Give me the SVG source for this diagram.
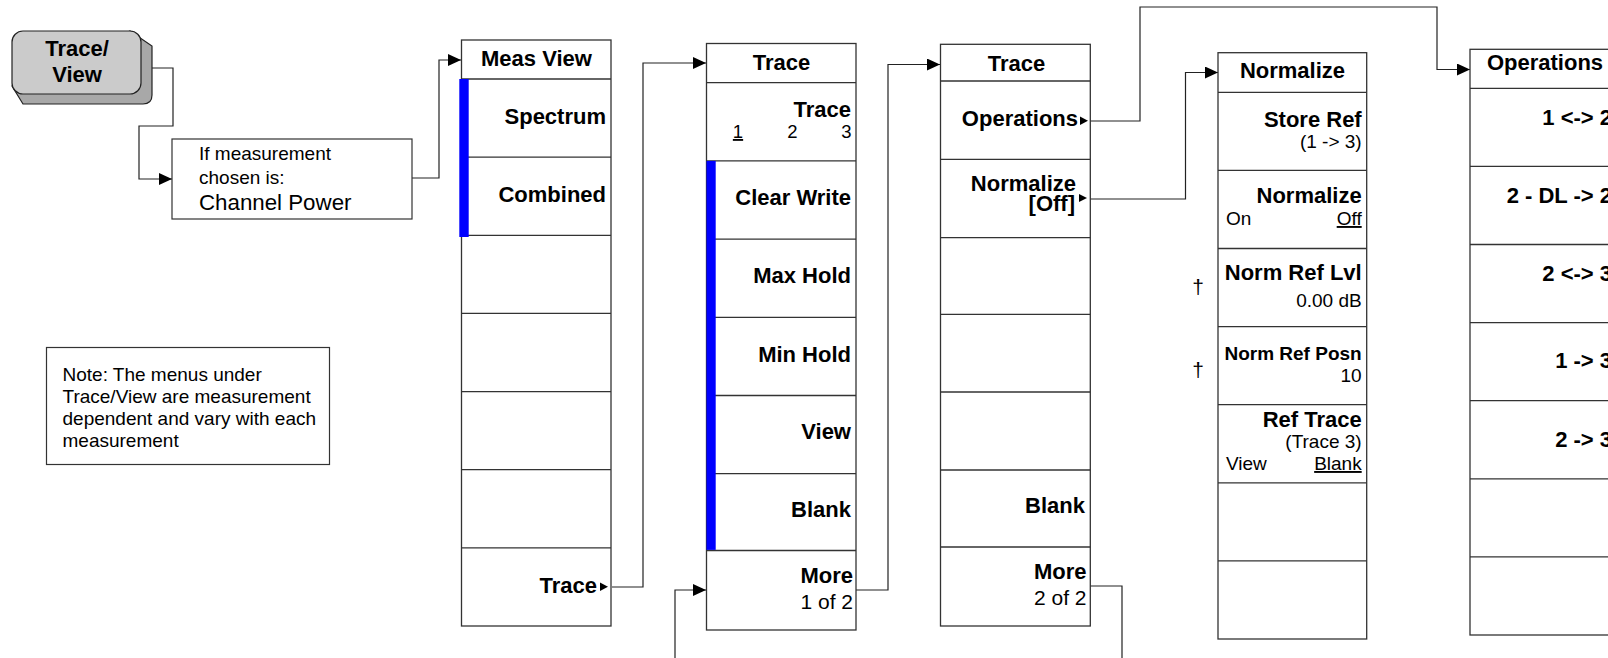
<svg xmlns="http://www.w3.org/2000/svg" width="1608" height="658" viewBox="0 0 1608 658">
<defs>
<style>
.box{fill:#fff;stroke:#333;stroke-width:1.3}
.sep{stroke:#333;stroke-width:1.3}
.con{fill:none;stroke:#222;stroke-width:1.2}
.bar{fill:#0000ff}
text{font-family:"Liberation Sans",Arial,sans-serif;fill:#000}
.b{font-size:22px;font-weight:bold}
.bs{font-size:19px;font-weight:bold}
.r{font-size:18.5px}
.r21{font-size:21px}
.r19{font-size:19px}
.r22{font-size:22.3px}
.e{text-anchor:end}
.m{text-anchor:middle}
.tri{fill:#000}
</style>
<marker id="arr" markerWidth="13" markerHeight="12" refX="13" refY="6" orient="auto" markerUnits="userSpaceOnUse">
<path d="M0,0 L13,6 L0,12 z" fill="#000"/>
</marker>
</defs>
<rect width="1608" height="658" fill="#fff"/>

<g id="connectors">
<path class="con" d="M152,68 H173 V126 H139 V179 H172" marker-end="url(#arr)"/>
<path class="con" d="M412,178 H439 V60 H461" marker-end="url(#arr)"/>
<path class="con" d="M612,587 H643 V63 H706" marker-end="url(#arr)"/>
<path class="con" d="M856,590 H888 V64.5 H940" marker-end="url(#arr)"/>
<path class="con" d="M1090,121 H1140 V7 H1437 V69.5 H1470" marker-end="url(#arr)"/>
<path class="con" d="M1090,199 H1185.5 V72.5 H1218" marker-end="url(#arr)"/>
<path class="con" d="M1090,586 H1122 V658"/>
<path class="con" d="M675,658 V590 H706" marker-end="url(#arr)"/>
</g>

<g id="key-trace-view">
<path d="M130,31 L152,46 L152,95 Q152,104 143,104 L23,104 L12,86 Z" fill="#a8a8a8" stroke="#222" stroke-width="1.2"/>
<rect x="12" y="31" width="129" height="63" rx="11" fill="#cbcbcb" stroke="#222" stroke-width="1.2"/>
<text class="b m" x="77" y="55.5">Trace/</text>
<text class="b m" x="77" y="82">View</text>
</g>

<g id="cond-box">
<rect x="172" y="139" width="240" height="80" fill="#fff" stroke="#333" stroke-width="1.2"/>
<text class="r19" x="199" y="160">If measurement</text>
<text class="r19" x="199" y="184.3">chosen is:</text>
<text class="r22" x="199" y="210">Channel Power</text>
</g>

<g id="note">
<rect x="46.5" y="347.5" width="283" height="117" fill="#fff" stroke="#333" stroke-width="1.2"/>
<text class="r19" x="62.5" y="381">Note: The menus under</text>
<text class="r19" x="62.5" y="403">Trace/View are measurement</text>
<text class="r19" x="62.5" y="424.5">dependent and vary with each</text>
<text class="r19" x="62.5" y="446.5">measurement</text>
</g>

<g id="menu-meas-view">
<rect class="box" x="461.5" y="40" width="149.5" height="586"/>
<line class="sep" x1="461.5" x2="611" y1="79" y2="79"/>
<line class="sep" x1="461.5" x2="611" y1="157.1" y2="157.1"/>
<line class="sep" x1="461.5" x2="611" y1="235.3" y2="235.3"/>
<line class="sep" x1="461.5" x2="611" y1="313.4" y2="313.4"/>
<line class="sep" x1="461.5" x2="611" y1="391.6" y2="391.6"/>
<line class="sep" x1="461.5" x2="611" y1="469.7" y2="469.7"/>
<line class="sep" x1="461.5" x2="611" y1="547.9" y2="547.9"/>
<rect class="bar" x="459.3" y="79" width="9.4" height="158"/>
<text class="b m" x="536.5" y="66">Meas View</text>
<text class="b e" x="606" y="124">Spectrum</text>
<text class="b e" x="606" y="202">Combined</text>
<text class="b e" x="597" y="593">Trace</text>
<polygon class="tri" points="600,582.5 608,586.7 600,591"/>
</g>

<g id="menu-trace-1">
<rect class="box" x="706.5" y="43.5" width="149.5" height="586.5"/>
<line class="sep" x1="706.5" x2="856" y1="82.7" y2="82.7"/>
<line class="sep" x1="706.5" x2="856" y1="160.9" y2="160.9"/>
<line class="sep" x1="706.5" x2="856" y1="239.1" y2="239.1"/>
<line class="sep" x1="706.5" x2="856" y1="317.3" y2="317.3"/>
<line class="sep" x1="706.5" x2="856" y1="395.5" y2="395.5"/>
<line class="sep" x1="706.5" x2="856" y1="473.7" y2="473.7"/>
<line class="sep" x1="706.5" x2="856" y1="550.5" y2="550.5"/>
<rect class="bar" x="706.5" y="160.9" width="9.2" height="389"/>
<text class="b m" x="781.5" y="69.5">Trace</text>
<text class="b e" x="851" y="117">Trace</text>
<text class="r" x="738" y="138" text-anchor="middle" text-decoration="underline">1</text>
<text class="r m" x="792.5" y="138">2</text>
<text class="r e" x="851.5" y="138">3</text>
<text class="b e" x="851" y="205">Clear Write</text>
<text class="b e" x="851" y="283">Max Hold</text>
<text class="b e" x="851" y="361.5">Min Hold</text>
<text class="b e" x="851" y="439">View</text>
<text class="b e" x="851" y="517">Blank</text>
<text class="b e" x="853" y="582.5">More</text>
<text class="r21 e" x="853" y="609">1 of 2</text>
</g>

<g id="menu-trace-2">
<rect class="box" x="940.5" y="44.3" width="149.8" height="581.7"/>
<line class="sep" x1="940.5" x2="1090.3" y1="81" y2="81"/>
<line class="sep" x1="940.5" x2="1090.3" y1="159.4" y2="159.4"/>
<line class="sep" x1="940.5" x2="1090.3" y1="237.6" y2="237.6"/>
<line class="sep" x1="940.5" x2="1090.3" y1="314.3" y2="314.3"/>
<line class="sep" x1="940.5" x2="1090.3" y1="392" y2="392"/>
<line class="sep" x1="940.5" x2="1090.3" y1="470" y2="470"/>
<line class="sep" x1="940.5" x2="1090.3" y1="547" y2="547"/>
<text class="b m" x="1016.5" y="71">Trace</text>
<text class="b e" x="1078" y="126">Operations</text>
<polygon class="tri" points="1080,116.5 1088,120.7 1080,125"/>
<text class="b e" x="1076" y="191">Normalize</text>
<text class="b e" x="1075" y="211">[Off]</text>
<polygon class="tri" points="1079,194 1087,198 1079,202"/>
<text class="b e" x="1085" y="513">Blank</text>
<text class="b e" x="1086.5" y="579">More</text>
<text class="r21 e" x="1086.5" y="605">2 of 2</text>
</g>

<g id="menu-normalize">
<rect class="box" x="1218" y="52.7" width="148.7" height="586.3"/>
<line class="sep" x1="1218" x2="1366.7" y1="92.3" y2="92.3"/>
<line class="sep" x1="1218" x2="1366.7" y1="170.4" y2="170.4"/>
<line class="sep" x1="1218" x2="1366.7" y1="248.5" y2="248.5"/>
<line class="sep" x1="1218" x2="1366.7" y1="326.6" y2="326.6"/>
<line class="sep" x1="1218" x2="1366.7" y1="404.7" y2="404.7"/>
<line class="sep" x1="1218" x2="1366.7" y1="482.8" y2="482.8"/>
<line class="sep" x1="1218" x2="1366.7" y1="560.9" y2="560.9"/>
<text class="b m" x="1292.5" y="78">Normalize</text>
<text class="b e" x="1361.7" y="126.7">Store Ref</text>
<text class="r19 e" x="1361.7" y="148.3">(1 -&gt; 3)</text>
<text class="b e" x="1361.7" y="203">Normalize</text>
<text class="r19" x="1226" y="225">On</text>
<text class="r19 e" x="1361.7" y="225" text-decoration="underline">Off</text>
<text class="b e" x="1361.7" y="280">Norm Ref Lvl</text>
<text class="r19 e" x="1361.7" y="306.7">0.00 dB</text>
<text class="bs e" x="1361.7" y="360">Norm Ref Posn</text>
<text class="r19 e" x="1361.7" y="381.7">10</text>
<text class="b e" x="1361.7" y="426.7">Ref Trace</text>
<text class="r19 e" x="1361.7" y="448">(Trace 3)</text>
<text class="r19" x="1226" y="470">View</text>
<text class="r19 e" x="1361.7" y="470" text-decoration="underline">Blank</text>
</g>

<g id="daggers">
<text class="r21 m" x="1198" y="294">†</text>
<text class="r21 m" x="1198" y="377">†</text>
</g>

<g id="menu-operations">
<rect class="box" x="1470" y="49.3" width="148" height="585.7"/>
<line class="sep" x1="1470" x2="1618" y1="88.3" y2="88.3"/>
<line class="sep" x1="1470" x2="1618" y1="166.4" y2="166.4"/>
<line class="sep" x1="1470" x2="1618" y1="244.5" y2="244.5"/>
<line class="sep" x1="1470" x2="1618" y1="322.6" y2="322.6"/>
<line class="sep" x1="1470" x2="1618" y1="400.7" y2="400.7"/>
<line class="sep" x1="1470" x2="1618" y1="478.8" y2="478.8"/>
<line class="sep" x1="1470" x2="1618" y1="556.9" y2="556.9"/>
<text class="b m" x="1545" y="70">Operations</text>
<text class="b e" x="1612" y="125">1 &lt;-&gt; 2</text>
<text class="b e" x="1612" y="203">2 - DL -&gt; 2</text>
<text class="b e" x="1612" y="281">2 &lt;-&gt; 3</text>
<text class="b e" x="1612" y="368">1 -&gt; 3</text>
<text class="b e" x="1612" y="447">2 -&gt; 3</text>
</g>
</svg>
